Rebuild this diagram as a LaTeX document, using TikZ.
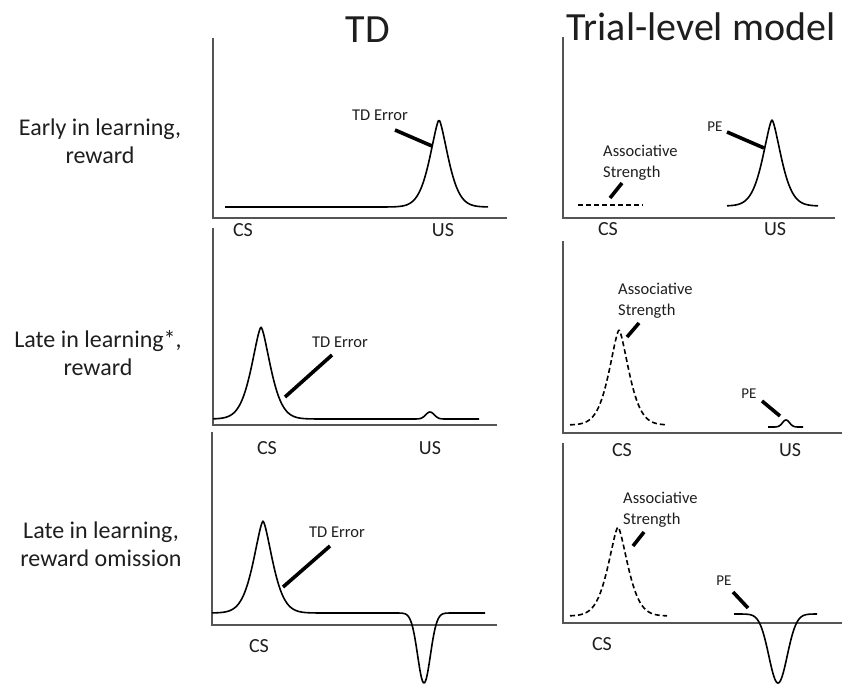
\documentclass[tikz,border=0pt]{standalone}
\usepackage{fontspec}
\setmainfont{Carlito}
\definecolor{axgray}{RGB}{85,85,85}
\definecolor{txt}{RGB}{30,30,30}
\pgfmathdeclarefunction{pk}{1}{\pgfmathparse{exp(-min(((#1)*(#1)+0.0001)^0.75,30))}}
\pgfmathdeclarefunction{gs}{1}{\pgfmathparse{exp(-min((#1)*(#1),30))}}
\begin{document}
\begin{tikzpicture}[x=1pt,y=-1pt,
  curve/.style={line width=1.6pt,black,line join=round},
  dcurve/.style={curve,dash pattern=on 5pt off 3pt},
  axisline/.style={line width=1.1pt,axgray},
  leader/.style={line width=3.6pt,black},
  title/.style={inner sep=0pt,text=txt,font=\fontsize{40}{48}\selectfont},
  rowlab/.style={inner sep=0pt,text=txt,align=center,font=\fontsize{24}{28}\selectfont},
  tick/.style={inner sep=0pt,text=txt,font=\fontsize{20}{24}\selectfont},
  small/.style={inner sep=0pt,text=txt,font=\fontsize{16.5}{20.5}\selectfont},
  pe/.style={inner sep=0pt,text=txt,font=\fontsize{15}{18}\selectfont},
  assoc/.style={inner sep=0pt,text=txt,align=left,anchor=north west,font=\fontsize{16.5}{20.7}\selectfont}]
\useasboundingbox (0,0) rectangle (842,685);

% titles
\node[title] (tTD) at (368,30) {TD};
\node[title] (tTL) at (701,27) {Trial-level model};

% row labels
\node[rowlab] (r1) at (100,141) {Early in learning,\\reward};
\node[rowlab] (r2) at (98,353) {Late in learning*,\\reward};
\node[rowlab] (r3) at (101,544) {Late in learning,\\reward omission};

% ---------- Panel 1 (TD, early) ----------
\draw[axisline] (213,38) -- (213,218) -- (507,218);
\draw[curve] plot[domain=225:488,samples=240,smooth] (\x,{207-87*pk((\x-439)/13.5)});
\node[small] (e1) at (380,115) {TD Error};
\coordinate (e1a) at (395,130); \coordinate (e1b) at (432,146);
\draw[leader] (e1a) -- (e1b);
\node[tick] (cs1) at (243,230) {CS};
\node[tick] (us1) at (443,230) {US};

% ---------- Panel 2 (Trial-level, early) ----------
\draw[axisline] (563,37) -- (563,218) -- (835,218);
\coordinate (d2a) at (578,205); \coordinate (d2b) at (643,205);
\draw[dcurve] (d2a) -- (d2b);
\draw[curve] plot[domain=727:818,samples=180,smooth] (\x,{206-86*pk((\x-772)/13.5)});
\node[assoc] (a2) at (603,145) {Associative\\Strength};
\coordinate (a2a) at (622,183); \coordinate (a2b) at (610,198);
\draw[leader] (a2a) -- (a2b);
\node[pe] (pe2) at (715,127) {PE};
\coordinate (pe2a) at (727,132); \coordinate (pe2b) at (764,148);
\draw[leader] (pe2a) -- (pe2b);
\node[tick] (cs2) at (608,229) {CS};
\node[tick] (us2) at (775,229) {US};

% ---------- Panel 3 (TD, late, reward) ----------
\draw[axisline] (213,228) -- (213,425) -- (497,425);
\draw[curve] plot[domain=213:479,samples=260,smooth] (\x,{419-92*pk((\x-261)/14)-7*gs((\x-430)/6)});
\node[small] (e3) at (340,342) {TD Error};
\coordinate (e3a) at (332,355); \coordinate (e3b) at (285,397);
\draw[leader] (e3a) -- (e3b);
\node[tick] (cs3) at (267,448) {CS};
\node[tick] (us3) at (430,448) {US};

% ---------- Panel 4 (Trial-level, late, reward) ----------
\draw[axisline] (563,241) -- (563,433) -- (842,433);
\draw[dcurve] plot[domain=570:667,samples=180,smooth] (\x,{425-95*pk((\x-619)/14.5)});
\draw[curve] plot[domain=768:803,samples=80,smooth] (\x,{427-7*gs((\x-786)/5)});
\node[assoc] (a4) at (618,283) {Associative\\Strength};
\coordinate (a4a) at (639,323); \coordinate (a4b) at (627,337);
\draw[leader] (a4a) -- (a4b);
\node[pe] (pe4) at (749,394) {PE};
\coordinate (pe4a) at (762,401); \coordinate (pe4b) at (780,416);
\draw[leader] (pe4a) -- (pe4b);
\node[tick] (cs4) at (622,450) {CS};
\node[tick] (us4) at (790,450) {US};

% ---------- Panel 5 (TD, late, omission) ----------
\draw[axisline] (212,432) -- (212,625) -- (497,625);
\draw[curve] plot[domain=212:485,samples=280,smooth] (\x,{613-92*pk((\x-263)/14)+70*gs((\x-424)/9)});
\node[small] (e5) at (337,532) {TD Error};
\coordinate (e5a) at (330,546); \coordinate (e5b) at (283,587);
\draw[leader] (e5a) -- (e5b);
\node[tick] (cs5) at (259,646) {CS};

% ---------- Panel 6 (Trial-level, late, omission) ----------
\draw[axisline] (563,443) -- (563,623) -- (842,623);
\draw[dcurve] plot[domain=570:667,samples=180,smooth] (\x,{616-89*pk((\x-618)/14.5)});
\draw[curve] plot[domain=734:817,samples=180,smooth] (\x,{614+69*gs((\x-778)/13)});
\node[assoc] (a6) at (623,492) {Associative\\Strength};
\coordinate (a6a) at (644,532); \coordinate (a6b) at (633,546);
\draw[leader] (a6a) -- (a6b);
\node[pe] (pe6) at (724,581) {PE};
\coordinate (pe6a) at (733,592); \coordinate (pe6b) at (748,608);
\draw[leader] (pe6a) -- (pe6b);
\node[tick] (cs6) at (602,644) {CS};
\end{tikzpicture}
\end{document}
